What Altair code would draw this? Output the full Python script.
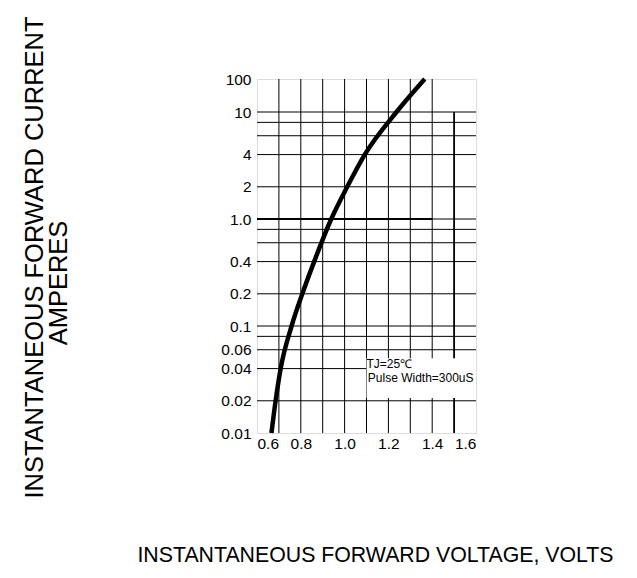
import altair as alt
import pandas as pd

# ---- data ----
curve_v = [0.666, 0.685, 0.708, 0.758, 0.807, 0.861, 0.939, 1.012, 1.092, 1.237, 1.366]
curve_i = [0.01, 0.02, 0.04, 0.1, 0.2, 0.4, 1.0, 2, 4, 10, 100]

y_ticks = [0.01, 0.02, 0.04, 0.06, 0.1, 0.2, 0.4, 1, 2, 4, 10, 100]
x_ticks = [0.6, 0.8, 1.0, 1.2, 1.4, 1.6]

h_grid = [10, 8, 6, 4, 2, 0.8, 0.6, 0.4, 0.2, 0.1, 0.08, 0.06, 0.04, 0.02]
v_grid = [0.7, 0.8, 0.9, 1.0, 1.1, 1.2, 1.3, 1.4]

note_lines = ["TJ=25℃", "Pulse Width=300uS"]
note_y = [0.044, 0.0327]

y_title = "INSTANTANEOUS FORWARD CURRENT"
y_title2 = "AMPERES"
x_title = "INSTANTANEOUS FORWARD VOLTAGE,  VOLTS"

FONT = "Liberation Sans"
W, H = 219, 354

xs = alt.Scale(domain=[0.6, 1.6], nice=False, zero=False)
ys = alt.Scale(type="log", domain=[0.01, 10, 100], range=[H, 33, 0], nice=False)

# grid rule table
rows = []
for v in h_grid:
    rows.append({"x": 0.6, "x2": 1.6, "y": v, "y2": v, "w": 1.0})
rows.append({"x": 0.6, "x2": 1.4, "y": 1.0, "y2": 1.0, "w": 2.2})
rows.append({"x": 1.4, "x2": 1.6, "y": 1.0, "y2": 1.0, "w": 1.0})
for v in v_grid:
    rows.append({"x": v, "x2": v, "y": 0.01, "y2": 100, "w": 1.0})
rows.append({"x": 1.5, "x2": 1.5, "y": 0.01, "y2": 10, "w": 1.8})
grid_df = pd.DataFrame(rows)

grid = alt.Chart(grid_df).mark_rule(color="black").encode(
    x=alt.X("x:Q", scale=xs,
            axis=alt.Axis(values=x_ticks, format=".1f", grid=False, ticks=False, domain=False,
                          labelFont=FONT, labelFontSize=15.5, labelColor="black", labelPadding=3,
                          title=x_title,
                          titleFont=FONT, titleFontSize=21.3, titleFontWeight="normal",
                          titleColor="black", titleX=118, titleY=111, titleAlign="center",
                          titleBaseline="top")),
    x2="x2:Q",
    y=alt.Y("y:Q", scale=ys,
            axis=alt.Axis(values=y_ticks, format="~g",
                          labelExpr="datum.value == 1 ? '1.0' : datum.label",
                          grid=False, ticks=False, domain=False,
                          labelFont=FONT, labelFontSize=15.5, labelColor="black", labelPadding=6,
                          title=y_title,
                          titleFont=FONT, titleFontSize=25.5, titleFontWeight="normal",
                          titleColor="black", titleAngle=-90, titleX=-235, titleY=178,
                          titleAlign="center", titleBaseline="top")),
    y2="y2:Q",
    strokeWidth=alt.StrokeWidth("w:Q", scale=None),
)

title2 = alt.Chart(pd.DataFrame({"t": [y_title2]})).mark_text(
    angle=270, align="center", baseline="middle", font=FONT, fontSize=25.5, color="black"
).encode(x=alt.value(-198), y=alt.value(204), text="t:N")

box_df = pd.DataFrame({"x": [1.1], "x2": [1.6], "y": [0.05], "y2": [0.0212]})
box = alt.Chart(box_df).mark_rect(color="white").encode(
    x=alt.X("x:Q", scale=xs), x2="x2:Q", y=alt.Y("y:Q", scale=ys), y2="y2:Q"
)

note_df = pd.DataFrame({"t": note_lines, "x": [1.1, 1.106], "y": note_y})
note = alt.Chart(note_df).mark_text(
    align="left", baseline="middle", font=FONT, fontSize=12, color="black"
).encode(x=alt.X("x:Q", scale=xs), y=alt.Y("y:Q", scale=ys), text="t:N")

curve_df = pd.DataFrame({"v": curve_v, "i": curve_i})
curve = alt.Chart(curve_df).mark_line(color="black", strokeWidth=4.5, interpolate="monotone").encode(
    x=alt.X("v:Q", scale=xs), y=alt.Y("i:Q", scale=ys)
)

chart = alt.layer(grid, box, note, curve, title2).properties(
    width=W, height=H,
    autosize=alt.AutoSizeParams(type="none"),
    padding={"left": 249, "top": 71, "right": 140, "bottom": 134},
).configure_view(stroke="black", strokeWidth=1).configure(background="white")

chart.save("out.html", embed_options={"renderer": "svg", "actions": False})
